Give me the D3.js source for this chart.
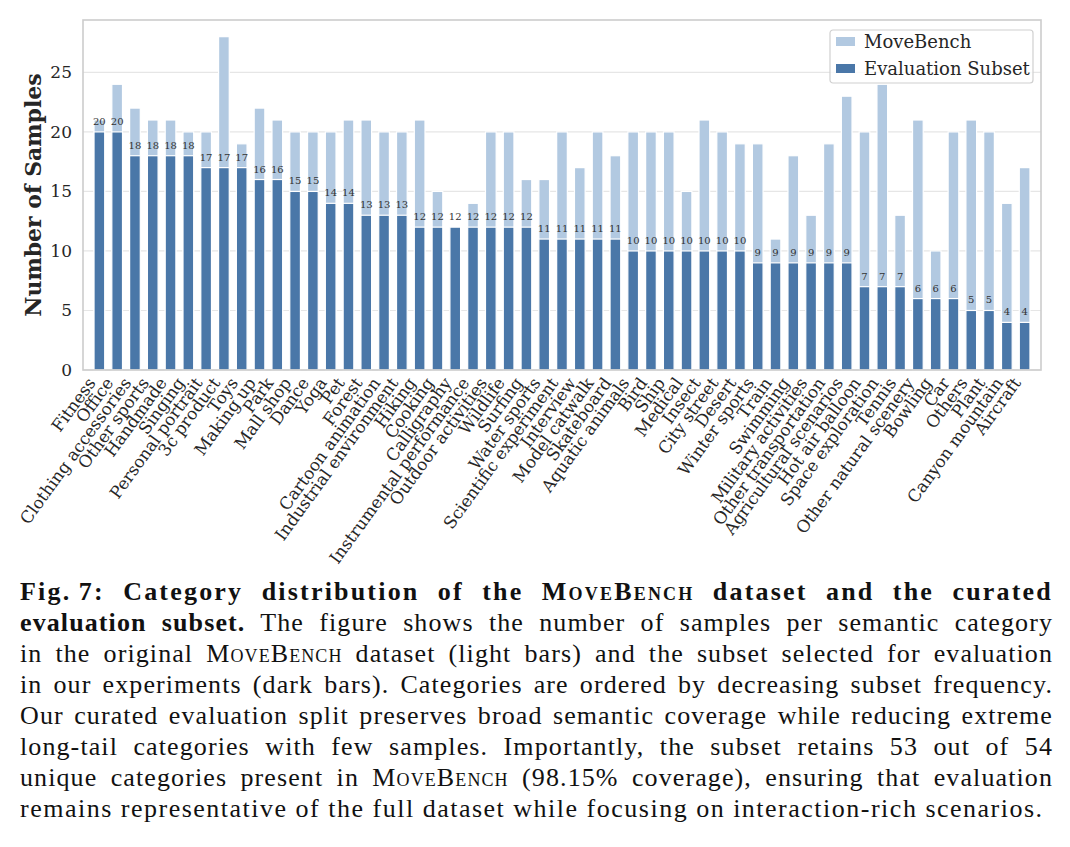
<!DOCTYPE html>
<html>
<head>
  <meta charset="utf-8">
  <style>
  body{
    margin:0;
    background:#fff;
  }
  .chart{
    position:absolute;
    left:0;
    top:0;
  }
  .chart text{
    font-family:"DejaVu Serif", serif;
    fill:#262626;
  }
  .caption{
    position:absolute;
    left:20px;
    top:576px;
    width:1033px;
    font-family:"Liberation Serif", serif;
    font-size:26px;
    letter-spacing:1.1px;
    color:#111;
  }
  .caption div{
    height:31px;
    line-height:31px;
    text-align:justify;
    text-align-last:justify;
  }
  .caption div.first{
    letter-spacing:2.2px;
  }
  .caption div.last{
    text-align-last:left;
    letter-spacing:1.5px;
  }
  .sc{
    font-variant:small-caps;
  }
  </style>
</head>
<body>
  <svg class="chart" width="1070" height="575"></svg>
  <div class="caption">
    <div class="first"><b>Fig.&#8201;7: Category distribution of the <span class="sc">MoveBench</span> dataset and the curated</b></div>
    <div><b>evaluation subset.</b> The figure shows the number of samples per semantic category</div>
    <div>in the original <span class="sc">MoveBench</span> dataset (light bars) and the subset selected for evaluation</div>
    <div>in our experiments (dark bars). Categories are ordered by decreasing subset frequency.</div>
    <div>Our curated evaluation split preserves broad semantic coverage while reducing extreme</div>
    <div>long-tail categories with few samples. Importantly, the subset retains 53 out of 54</div>
    <div>unique categories present in <span class="sc">MoveBench</span> (98.15% coverage), ensuring that evaluation</div>
    <div class="last">remains representative of the full dataset while focusing on interaction-rich scenarios.</div>
  </div>
  <script src="https://d3js.org/d3.v7.min.js"></script>
  <script>

  var categories = ["Fitness", "Office", "Clothing accessories", "Other sports", "Handmade", "Singing",
    "Personal portrait", "3c product", "Toys", "Making up", "Park", "Mall shop", "Dance", "Yoga", "Pet",
    "Forest", "Cartoon animation", "Industrial environment", "Hiking", "Cooking", "Calligraphy",
    "Instrumental performance", "Outdoor activities", "Wildlife", "Surfing", "Water sports",
    "Scientific experiment", "Interview", "Model catwalk", "Skateboard", "Aquatic animals", "Bird", "Ship",
    "Medical", "Insect", "City street", "Desert", "Winter sports", "Train", "Swimming",
    "Military activities", "Other transportation", "Agricultural scenarios", "Hot air balloon",
    "Space exploration", "Tennis", "Other natural scenery", "Bowling", "Car", "Others", "Plant",
    "Canyon mountain", "Aircraft"];

  var moveBench = [21, 24, 22, 21, 21, 20, 20, 28, 19, 22, 21, 20, 20, 20, 21, 21, 20, 20, 21, 15, 12,
    14, 20, 20, 16, 16, 20, 17, 20, 18, 20, 20, 20, 15, 21, 20, 19, 19, 11, 18, 13, 19, 23, 20, 24, 13,
    21, 10, 20, 21, 20, 14, 17];

  var subset = [20, 20, 18, 18, 18, 18, 17, 17, 17, 16, 16, 15, 15, 14, 14, 13, 13, 13, 12, 12, 12, 12,
    12, 12, 12, 11, 11, 11, 11, 11, 10, 10, 10, 10, 10, 10, 10, 9, 9, 9, 9, 9, 9, 7, 7, 7, 6, 6, 6, 5, 5,
    4, 4];

  var yTicks = [0, 5, 10, 15, 20, 25];
  var seriesNames = ["MoveBench", "Evaluation Subset"];

  var lightBlue = "#b2c9e1",
      darkBlue = "#4a77a8";

  var svg = d3.select("svg"),
      margin = {top: 20, right: 29, left: 83},
      plotBottom = 370;

  var x = d3.scaleBand()
      .domain(categories)
      .range([margin.left, 1070 - margin.right])
      .paddingInner(0.4)
      .paddingOuter(0.62);

  var y = d3.scaleLinear()
      .domain([0, 28 * 1.05])
      .range([plotBottom, margin.top]);

  var rows = categories.map(function(c, i) { return {name: c, total: moveBench[i], sub: subset[i]}; });

  // grid
  svg.append("g")
    .selectAll("line")
    .data(yTicks)
    .enter().append("line")
      .attr("x1", margin.left)
      .attr("x2", 1070 - margin.right)
      .attr("y1", function(d) { return y(d); })
      .attr("y2", function(d) { return y(d); })
      .attr("stroke", "#e6e6e6")
      .attr("stroke-width", 1.2);

  // full MoveBench bars behind
  svg.append("g")
    .selectAll("rect")
    .data(rows)
    .enter().append("rect")
      .attr("x", function(d) { return x(d.name); })
      .attr("width", x.bandwidth())
      .attr("y", function(d) { return y(d.total); })
      .attr("height", function(d) { return y(0) - y(d.total); })
      .attr("fill", lightBlue)
      .attr("stroke", "#fff")
      .attr("stroke-width", 1.2);

  // subset bars on top
  svg.append("g")
    .selectAll("rect")
    .data(rows)
    .enter().append("rect")
      .attr("x", function(d) { return x(d.name); })
      .attr("width", x.bandwidth())
      .attr("y", function(d) { return y(d.sub); })
      .attr("height", function(d) { return y(0) - y(d.sub); })
      .attr("fill", darkBlue)
      .attr("stroke", "#fff")
      .attr("stroke-width", 1.2);

  // value labels
  svg.append("g")
    .selectAll("text")
    .data(rows)
    .enter().append("text")
      .attr("x", function(d) { return x(d.name) + x.bandwidth() / 2; })
      .attr("y", function(d) { return y(d.sub) - 7; })
      .attr("text-anchor", "middle")
      .style("font-size", "10px")
      .style("fill", "#333")
      .text(function(d) { return d.sub; });

  // frame
  svg.append("rect")
      .attr("x", margin.left)
      .attr("y", margin.top)
      .attr("width", 1070 - margin.right - margin.left)
      .attr("height", plotBottom - margin.top)
      .attr("fill", "none")
      .attr("stroke", "#cccccc")
      .attr("stroke-width", 1.6);

  // y axis
  var yAxis = svg.append("g")
      .attr("transform", "translate(" + margin.left + ",0)")
      .call(d3.axisLeft(y).tickValues(yTicks).tickSize(0).tickPadding(11));
  yAxis.select(".domain").remove();
  yAxis.selectAll("text")
      .style("font-size", "17px")
      .style("font-family", "DejaVu Serif");

  svg.append("text")
      .attr("transform", "translate(33," + ((margin.top + plotBottom) / 2) + ") rotate(-90)")
      .attr("text-anchor", "middle")
      .attr("dominant-baseline", "central")
      .style("font-size", "22px")
      .style("font-weight", "bold")
      .text("Number of Samples");

  // x labels
  svg.append("g")
    .selectAll("text")
    .data(categories)
    .enter().append("text")
      .attr("transform", function(d) {
        return "translate(" + (x(d) + x.bandwidth() / 2 - 3) + "," + (plotBottom + 13) + ") rotate(-54)";
      })
      .attr("text-anchor", "end")
      .style("font-size", "16.8px")
      .text(function(d) { return d; });

  // legend
  var legend = svg.append("g").attr("transform", "translate(830,30)");
  legend.append("rect")
      .attr("width", 203)
      .attr("height", 53)
      .attr("rx", 3)
      .attr("fill", "#fff")
      .attr("fill-opacity", 0.8)
      .attr("stroke", "#d0d0d0")
      .attr("stroke-width", 1.2);

  var item = legend.selectAll(".item")
    .data(seriesNames)
    .enter().append("g")
      .attr("class", "item")
      .attr("transform", function(d, i) { return "translate(0," + (i * 27) + ")"; });
  item.append("rect")
      .attr("x", 6)
      .attr("y", 7)
      .attr("width", 19)
      .attr("height", 9)
      .attr("fill", function(d, i) { return i ? darkBlue : lightBlue; });
  item.append("text")
      .attr("x", 34)
      .attr("y", 18)
      .style("font-size", "18px")
      .text(function(d) { return d; });

  </script>
</body>
</html>
